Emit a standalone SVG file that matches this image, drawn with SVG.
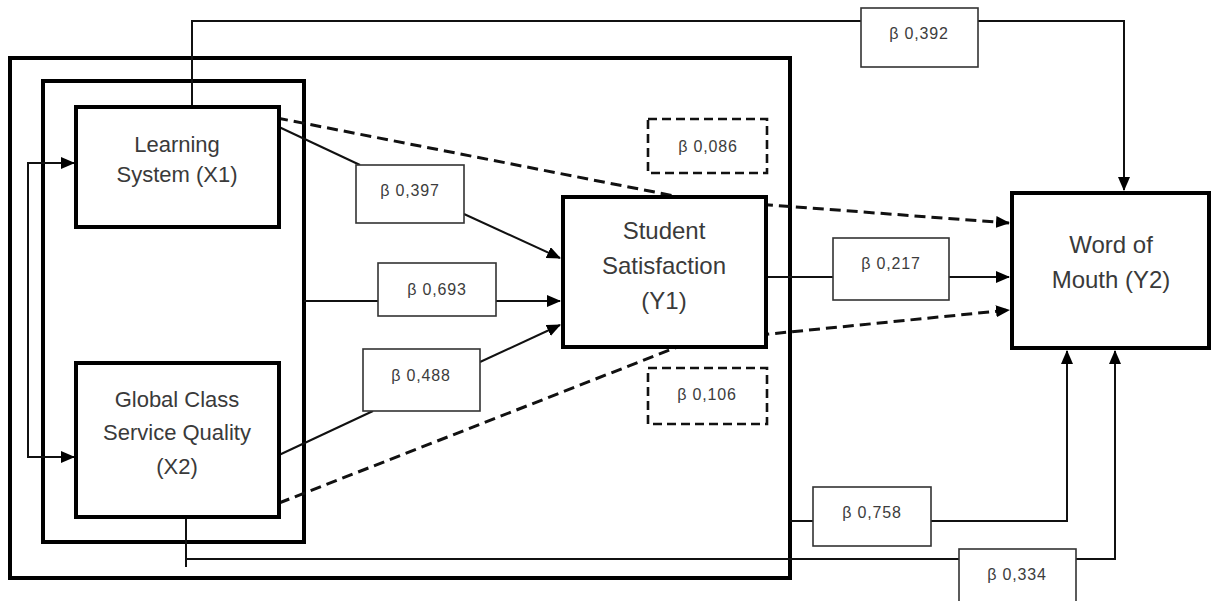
<svg xmlns="http://www.w3.org/2000/svg" width="1212" height="601" viewBox="0 0 1212 601">
<style>
.frame{fill:none;stroke:#000;stroke-width:4}
.node{fill:#fff;stroke:#000;stroke-width:4}
.lbl{fill:#fff;stroke:#333;stroke-width:1.6}
.dlbl{fill:#fff;stroke:#111;stroke-width:2.6;stroke-dasharray:9 5}
.ntxt{font-family:"Liberation Sans",Arial,sans-serif;font-size:22px;fill:#3a3a3a;text-anchor:middle}
.btxt{font-family:"Liberation Sans",Arial,sans-serif;font-size:16px;fill:#3c3c3c;text-anchor:middle;letter-spacing:0.8px}
.c{fill:none;stroke:#111;stroke-width:2}
.cd{fill:none;stroke:#111;stroke-width:3;stroke-dasharray:11 6}
</style>
<defs>
<marker id="ah" markerUnits="userSpaceOnUse" markerWidth="14" markerHeight="12" refX="13" refY="6" orient="auto-start-reverse">
<path d="M0,0 L14,6 L0,12 z" fill="#000"/>
</marker>
</defs>
<rect width="1212" height="601" fill="#fff"/>
<g id="frames">
<rect class="frame" x="10" y="58" width="780" height="520"/>
<rect class="frame" x="43" y="81" width="261" height="461"/>
</g>
<g id="connectors">
<polyline class="c" points="74,163 28,163 28,457 74,457" marker-start="url(#ah)" marker-end="url(#ah)"/>
<polyline class="c" points="192,107 192,21 1124,21 1124,190" marker-end="url(#ah)"/>
<line class="c" x1="279" y1="127" x2="360" y2="165"/>
<line class="c" x1="464" y1="214" x2="560" y2="258" marker-end="url(#ah)"/>
<line class="c" x1="304" y1="301" x2="560" y2="301" marker-end="url(#ah)"/>
<line class="c" x1="279" y1="455" x2="373" y2="411"/>
<line class="c" x1="480" y1="362" x2="560" y2="325" marker-end="url(#ah)"/>
<polyline class="cd" points="277,118 690,199 1009,223" marker-end="url(#ah)"/>
<polyline class="cd" points="279,503 690,342 1009,310" marker-end="url(#ah)"/>
<line class="c" x1="766" y1="277" x2="1009" y2="277" marker-end="url(#ah)"/>
<polyline class="c" points="790,521 1067,521 1067,351" marker-end="url(#ah)"/>
<line class="c" x1="186" y1="517" x2="186" y2="567"/>
<polyline class="c" points="186,559 1115,559 1115,351" marker-end="url(#ah)"/>
</g>
<g id="x1">
<rect class="node" x="76" y="107" width="203" height="120"/>
<text class="ntxt" x="177" y="152">Learning</text>
<text class="ntxt" x="177" y="182">System (X1)</text>
</g>
<g id="x2">
<rect class="node" x="76" y="363" width="203" height="154"/>
<text class="ntxt" x="177" y="407">Global Class</text>
<text class="ntxt" x="177" y="440">Service Quality</text>
<text class="ntxt" x="177" y="474">(X2)</text>
</g>
<g id="y1">
<rect class="node" x="563" y="197" width="203" height="150"/>
<text class="ntxt" x="664" y="239" style="font-size:24px">Student</text>
<text class="ntxt" x="664" y="274" style="font-size:24px">Satisfaction</text>
<text class="ntxt" x="664" y="309" style="font-size:24px">(Y1)</text>
</g>
<g id="y2">
<rect class="node" x="1012" y="193" width="197" height="155"/>
<text class="ntxt" x="1111" y="253" style="font-size:24px">Word of</text>
<text class="ntxt" x="1111" y="288" style="font-size:24px">Mouth (Y2)</text>
</g>
<g id="b392"><rect class="lbl" x="861" y="8" width="117" height="59"/><text class="btxt" x="919" y="39">β 0,392</text></g>
<g id="b397"><rect class="lbl" x="356" y="165" width="108" height="58"/><text class="btxt" x="410" y="196">β 0,397</text></g>
<g id="b693"><rect class="lbl" x="378" y="263" width="118" height="53"/><text class="btxt" x="437" y="295">β 0,693</text></g>
<g id="b488"><rect class="lbl" x="363" y="349" width="117" height="62"/><text class="btxt" x="421" y="381">β 0,488</text></g>
<g id="b086"><rect class="dlbl" x="648" y="119" width="119" height="54"/><text class="btxt" x="708" y="152">β 0,086</text></g>
<g id="b106"><rect class="dlbl" x="648" y="368" width="119" height="56"/><text class="btxt" x="707" y="400">β 0,106</text></g>
<g id="b217"><rect class="lbl" x="833" y="238" width="116" height="62"/><text class="btxt" x="891" y="269">β 0,217</text></g>
<g id="b758"><rect class="lbl" x="813" y="487" width="118" height="59"/><text class="btxt" x="872" y="518">β 0,758</text></g>
<g id="b334"><rect class="lbl" x="959" y="549" width="117" height="56"/><text class="btxt" x="1017" y="580">β 0,334</text></g>
</svg>
